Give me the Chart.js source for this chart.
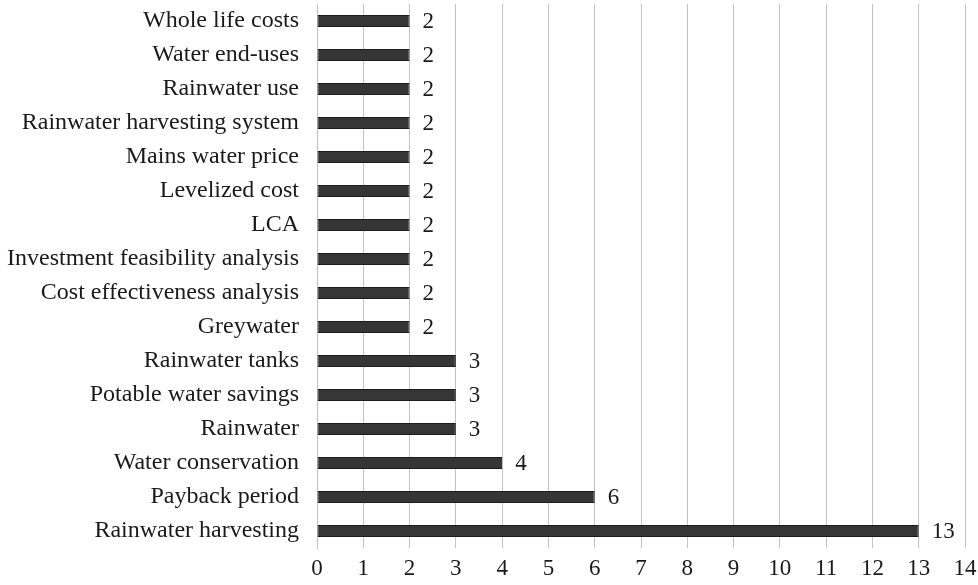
<!DOCTYPE html>
<html>
<head>
<meta charset="utf-8">
<script src="https://cdn.jsdelivr.net/npm/chart.js@4/dist/chart.umd.min.js"></script>
<style>
  html, body { margin: 0; padding: 0; background: #ffffff; }
  #wrap { width: 978px; height: 585px; position: relative; }
</style>
</head>
<body>
<div id="wrap"><canvas id="c"></canvas></div>
<script>
// Keyword frequency, top to bottom
const keywords = [
  'Whole life costs', 'Water end-uses', 'Rainwater use', 'Rainwater harvesting system',
  'Mains water price', 'Levelized cost', 'LCA', 'Investment feasibility analysis',
  'Cost effectiveness analysis', 'Greywater', 'Rainwater tanks', 'Potable water savings',
  'Rainwater', 'Water conservation', 'Payback period', 'Rainwater harvesting'
];
const counts = [2, 2, 2, 2, 2, 2, 2, 2, 2, 2, 3, 3, 3, 4, 6, 13];
const xTicks = [0, 1, 2, 3, 4, 5, 6, 7, 8, 9, 10, 11, 12, 13, 14];

const FONT = "'Liberation Serif', 'Times New Roman', serif";
const TEXT = '#1a1a1a';

// Writes each bar's count just past its end
const valueLabels = {
  id: 'valueLabels',
  afterDatasetsDraw(chart) {
    const ctx = chart.ctx;
    const meta = chart.getDatasetMeta(0);
    ctx.save();
    ctx.font = '23px ' + FONT;
    ctx.fillStyle = TEXT;
    ctx.textAlign = 'left';
    ctx.textBaseline = 'middle';
    meta.data.forEach((bar, i) => {
      ctx.fillText(String(counts[i]), bar.x + 13, bar.y + 1);
    });
    ctx.restore();
  }
};

new Chart(document.getElementById('c'), {
  type: 'bar',
  data: {
    labels: keywords,
    datasets: [{
      data: counts,
      backgroundColor: '#363636',
      borderColor: '#1c1c1c',
      borderWidth: 1,
      borderSkipped: false,
      barPercentage: 0.7,
      categoryPercentage: 0.5
    }]
  },
  options: {
    indexAxis: 'y',
    responsive: true,
    maintainAspectRatio: false,
    animation: false,
    layout: { padding: { top: 4, right: 13, bottom: 0, left: 0 } },
    plugins: {
      legend: { display: false },
      tooltip: { enabled: false }
    },
    scales: {
      x: {
        min: 0,
        max: 14,
        afterBuildTicks(scale) {
          scale.ticks = xTicks.map(v => ({ value: v }));
        },
        afterFit(scale) {
          scale.paddingLeft = 0;
          scale.paddingRight = 0;
          scale.height = 37;
        },
        grid: { color: '#c4c4c4', lineWidth: 1, drawTicks: false },
        border: { display: false },
        ticks: {
          color: TEXT,
          font: { family: FONT, size: 23 },
          padding: 7,
          maxRotation: 0
        }
      },
      y: {
        afterFit(scale) {
          scale.width = 317;
          scale.paddingTop = 0;
          scale.paddingBottom = 0;
        },
        grid: { display: false, drawTicks: false },
        border: { display: true, color: '#c4c4c4', width: 1 },
        ticks: {
          color: TEXT,
          font: { family: FONT, size: 24 },
          padding: 18,
          autoSkip: false
        }
      }
    }
  },
  plugins: [valueLabels]
});
</script>
</body>
</html>
